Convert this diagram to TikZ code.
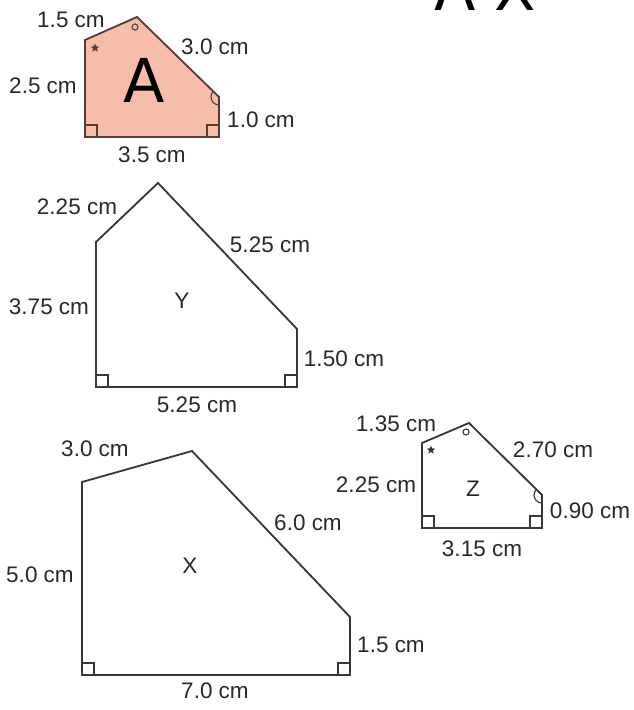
\documentclass[tikz,border=0pt]{standalone}
\usepackage{fontspec}
\setmainfont{Liberation Sans}
\newfontfamily\bigfont{DejaVu Sans}
\usepackage{tikz}
\usetikzlibrary{shapes.geometric}
\definecolor{edgegray}{RGB}{55,55,55}
\definecolor{textgray}{RGB}{40,40,40}
\definecolor{salmon}{RGB}{246,190,168}
\definecolor{salmonedge}{RGB}{85,60,55}
\tikzset{
  shapeline/.style = {edgegray,line width=1.3pt,line join=miter},
  markline/.style  = {edgegray,line width=0.8pt},
  lenlabel/.style  = {textgray,inner sep=0pt,font=\fontsize{16}{17}\selectfont},
  bigletter/.style = {black,inner sep=0pt,font=\bigfont\fontsize{43}{43}\selectfont},
  starmark/.style  = {star,star points=5,star point ratio=2.2,fill=edgegray,
                      inner sep=0pt,minimum size=2.2mm}
}

\begin{document}
\begin{tikzpicture}[x=0.025cm,y=-0.025cm]
  \useasboundingbox (0,0) rectangle (633,710);

  % heading, cut at the top edge
  \node[bigletter,anchor=base] (head) at (485,10) {A X};

  % shape A
  \coordinate (A1) at (85,137);
  \coordinate (A2) at (85,40);
  \coordinate (A3) at (137,17);
  \coordinate (A4) at (219,97);
  \coordinate (A5) at (219,137);
  \filldraw[shapeline,fill=salmon,draw=salmonedge] (A1) -- (A2) -- (A3) -- (A4) -- (A5) -- cycle;
  \draw[markline,salmonedge] (A1) rectangle ++(12,-12);
  \draw[markline,salmonedge] (A5) rectangle ++(-12,-12);
  \draw[markline,salmonedge] (A3) ++(-2,10) circle[radius=3];
  \draw[markline,salmonedge] (A4) ++(0,8) arc[start angle=90,end angle=224,radius=8];
  \node[starmark,fill=salmonedge] (Astar) at (95,48) {};
  \node[bigletter] (Aname) at (144,80) {A};
  \node[lenlabel] (Aa) at (71,20)   {1.5 cm};
  \node[lenlabel] (Ab) at (215,47)  {3.0 cm};
  \node[lenlabel] (Ac) at (43,86)   {2.5 cm};
  \node[lenlabel] (Ad) at (261,120) {1.0 cm};
  \node[lenlabel] (Ae) at (152,155) {3.5 cm};

  % shape Y
  \coordinate (Y1) at (96,387);
  \coordinate (Y2) at (96,242);
  \coordinate (Y3) at (158,183);
  \coordinate (Y4) at (297,329);
  \coordinate (Y5) at (297,387);
  \draw[shapeline] (Y1) -- (Y2) -- (Y3) -- (Y4) -- (Y5) -- cycle;
  \draw[markline] (Y1) rectangle ++(12,-12);
  \draw[markline] (Y5) rectangle ++(-12,-12);
  \node[lenlabel] (Yname) at (182,301) {Y};
  \node[lenlabel] (Ya) at (77,207)  {2.25 cm};
  \node[lenlabel] (Yb) at (270,245) {5.25 cm};
  \node[lenlabel] (Yc) at (49,307)  {3.75 cm};
  \node[lenlabel] (Yd) at (344,359) {1.50 cm};
  \node[lenlabel] (Ye) at (197,405) {5.25 cm};

  % shape X
  \coordinate (X1) at (82,675);
  \coordinate (X2) at (82,482);
  \coordinate (X3) at (192,451);
  \coordinate (X4) at (350,617);
  \coordinate (X5) at (350,675);
  \draw[shapeline] (X1) -- (X2) -- (X3) -- (X4) -- (X5) -- cycle;
  \draw[markline] (X1) rectangle ++(12,-12);
  \draw[markline] (X5) rectangle ++(-12,-12);
  \node[lenlabel] (Xname) at (190,566) {X};
  \node[lenlabel] (Xa) at (95,449)  {3.0 cm};
  \node[lenlabel] (Xb) at (308,523) {6.0 cm};
  \node[lenlabel] (Xc) at (40,575)  {5.0 cm};
  \node[lenlabel] (Xd) at (391,645) {1.5 cm};
  \node[lenlabel] (Xe) at (215,691) {7.0 cm};

  % shape Z
  \coordinate (Z1) at (422,528);
  \coordinate (Z2) at (422,443);
  \coordinate (Z3) at (469,423);
  \coordinate (Z4) at (542,495);
  \coordinate (Z5) at (542,528);
  \draw[shapeline] (Z1) -- (Z2) -- (Z3) -- (Z4) -- (Z5) -- cycle;
  \draw[markline] (Z1) rectangle ++(12,-12);
  \draw[markline] (Z5) rectangle ++(-12,-12);
  \draw[markline] (Z3) ++(-3,9) circle[radius=3];
  \draw[markline] (Z4) ++(0,8) arc[start angle=90,end angle=224,radius=8];
  \node[starmark] (Zstar) at (431,450) {};
  \node[lenlabel] (Zname) at (473,489) {Z};
  \node[lenlabel] (Za) at (396,424) {1.35 cm};
  \node[lenlabel] (Zb) at (553,450) {2.70 cm};
  \node[lenlabel] (Zc) at (376,485) {2.25 cm};
  \node[lenlabel] (Zd) at (590,511) {0.90 cm};
  \node[lenlabel] (Ze) at (482,549) {3.15 cm};
\end{tikzpicture}
\end{document}
